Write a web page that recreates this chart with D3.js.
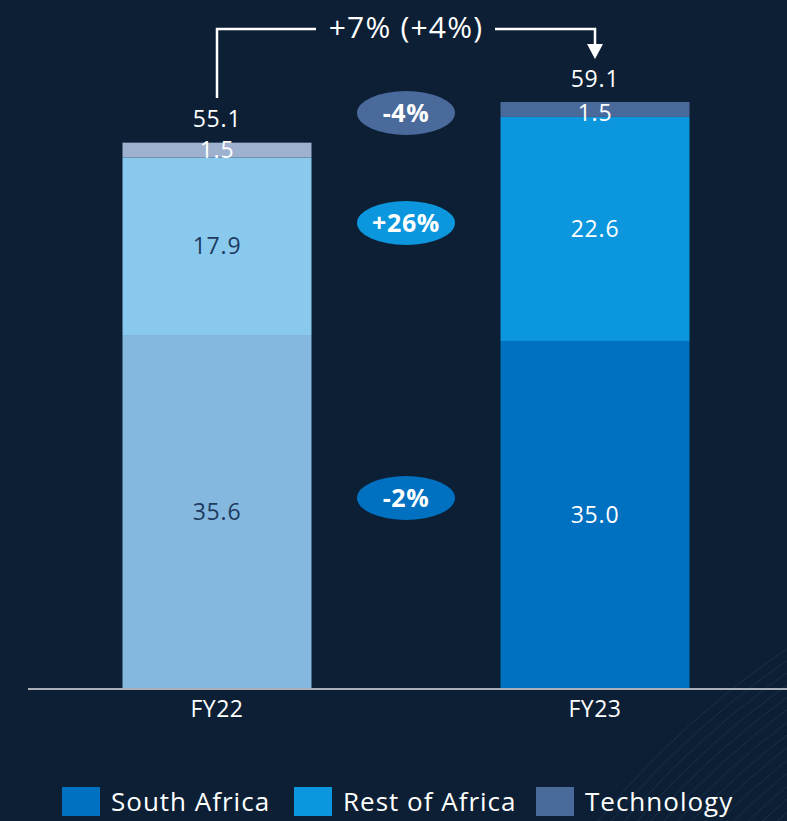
<!DOCTYPE html>
<html>
<head>
<meta charset="utf-8">
<script src="https://cdn.jsdelivr.net/npm/d3@7"></script>
<style>
  html, body { margin: 0; padding: 0; background: #0c1f35; }
  svg { display: block; font-family: "Open Sans", "Noto Sans", sans-serif; }
</style>
</head>
<body>
<div id="chart"></div>
<script>
// data
var years = ["FY22", "FY23"];
var segments = ["South Africa", "Rest of Africa", "Technology"];
var southAfrica = [35.6, 35.0];
var restOfAfrica = [17.9, 22.6];
var technology = [1.5, 1.5];
var totals = [55.1, 59.1];
var changes = ["-2%", "+26%", "-4%"];   // per segment, in segment order
var totalChange = "+7% (+4%)";

// colours: faded for prior year, full for current year
var fullColors = ["#0070c0", "#0b96dd", "#4a6a9c"];
var fadedColors = ["#85b8df", "#8ac9ee", "#9eb1cf"];

var width = 787, height = 821;
var baseline = 688;

var svg = d3.select("#chart").append("svg")
    .attr("width", width)
    .attr("height", height);

svg.append("rect").attr("width", width).attr("height", height).attr("fill", "#0c1f35");

// faint arcs in the bottom right corner
var arcs = svg.append("g").attr("opacity", 0.1);
d3.range(0, 30).forEach(function(i) {
  arcs.append("circle")
    .attr("cx", 1300)
    .attr("cy", 1400)
    .attr("r", 620 + i * 10)
    .attr("fill", "none")
    .attr("stroke", "#8cc4f0")
    .attr("stroke-width", 1);
});

var x = d3.scaleBand()
  .domain(years)
  .range([28, 784])
  .paddingInner(0.5)
  .paddingOuter(0.25);

var y = d3.scaleLinear()
  .domain([0, 59.1])
  .range([baseline, 102]);

// build stacks
var rows = years.map(function(yr, i) {
  return { year: yr, "South Africa": southAfrica[i], "Rest of Africa": restOfAfrica[i], "Technology": technology[i] };
});
var stack = d3.stack().keys(segments)(rows);

var bars = svg.append("g");
stack.forEach(function(layer, k) {
  layer.forEach(function(d, i) {
    bars.append("rect")
      .attr("x", x(years[i]))
      .attr("width", x.bandwidth())
      .attr("y", y(d[1]))
      .attr("height", y(d[0]) - y(d[1]))
      .attr("fill", i === 0 ? fadedColors[k] : fullColors[k]);

    var isTech = k === 2;
    var labelColor = (i === 0 && !isTech) ? "#1d3b60" : "#ffffff";
    var ly = isTech ? y(d[1]) + (i === 0 ? 7 : 11) : (y(d[0]) + y(d[1])) / 2;
    bars.append("text")
      .attr("x", x(years[i]) + x.bandwidth() / 2)
      .attr("y", ly)
      .attr("dy", "0.35em")
      .attr("text-anchor", "middle")
      .attr("font-size", 23)
      .attr("letter-spacing", 0.8)
      .attr("fill", labelColor)
      .text(d.data[segments[k]].toFixed(1));
  });
});

// totals
years.forEach(function(yr, i) {
  svg.append("text")
    .attr("x", x(yr) + x.bandwidth() / 2)
    .attr("y", y(totals[i]) - 23)
    .attr("dy", "0.35em")
    .attr("text-anchor", "middle")
    .attr("font-size", 23)
    .attr("letter-spacing", 0.8)
    .attr("fill", "#ffffff")
    .text(totals[i].toFixed(1));
});

// x axis
var axis = svg.append("g")
  .attr("transform", "translate(0," + (baseline + 1) + ")")
  .call(d3.axisBottom(x).tickSize(0).tickPadding(12));
axis.select(".domain").attr("stroke", "#aab0b8").attr("stroke-width", 2)
  .attr("d", "M28,0H787");
axis.selectAll("text").attr("font-size", 23).attr("fill", "#ffffff")
  .attr("letter-spacing", 0.5)
  .attr("font-family", "'Open Sans', sans-serif");

// change bubbles between the bars
var midX = (x("FY22") + x.bandwidth() + x("FY23")) / 2;
var bubbleY = [498, 223, 113];
changes.forEach(function(c, k) {
  var g = svg.append("g").attr("transform", "translate(" + midX + "," + bubbleY[k] + ")");
  g.append("ellipse").attr("rx", 49).attr("ry", 22).attr("fill", fullColors[k]);
  g.append("text")
    .attr("text-anchor", "middle")
    .attr("dy", "0.35em")
    .attr("font-size", 25)
    .attr("font-weight", "bold")
    .attr("letter-spacing", 0.6)
    .attr("fill", "#ffffff")
    .text(c);
});

// total change bracket
var x0 = x("FY22") + x.bandwidth() / 2;
var x1 = x("FY23") + x.bandwidth() / 2;
var topY = 29;
svg.append("path")
  .attr("d", "M" + x0 + "," + 98 + "V" + topY + "H" + (midX - 90))
  .attr("fill", "none").attr("stroke", "#ffffff").attr("stroke-width", 2.5);
svg.append("path")
  .attr("d", "M" + (midX + 89) + "," + topY + "H" + x1 + "V" + 44)
  .attr("fill", "none").attr("stroke", "#ffffff").attr("stroke-width", 2.5);
svg.append("path")
  .attr("d", "M" + (x1 - 8) + ",44L" + (x1 + 8) + ",44L" + x1 + ",59Z")
  .attr("fill", "#ffffff");
svg.append("text")
  .attr("x", midX)
  .attr("y", topY - 2)
  .attr("dy", "0.35em")
  .attr("text-anchor", "middle")
  .attr("font-size", 30)
  .attr("letter-spacing", 1.2)
  .attr("fill", "#ffffff")
  .text(totalChange);

// legend
var legendX = [62, 294, 536];
segments.forEach(function(s, k) {
  var g = svg.append("g").attr("transform", "translate(" + legendX[k] + ",787)");
  g.append("rect").attr("width", 38).attr("height", 29).attr("fill", fullColors[k]);
  g.append("text")
    .attr("x", 49)
    .attr("y", 15)
    .attr("dy", "0.35em")
    .attr("font-size", 26)
    .attr("letter-spacing", 1)
    .attr("fill", "#ffffff")
    .text(s);
});
</script>
</body>
</html>
